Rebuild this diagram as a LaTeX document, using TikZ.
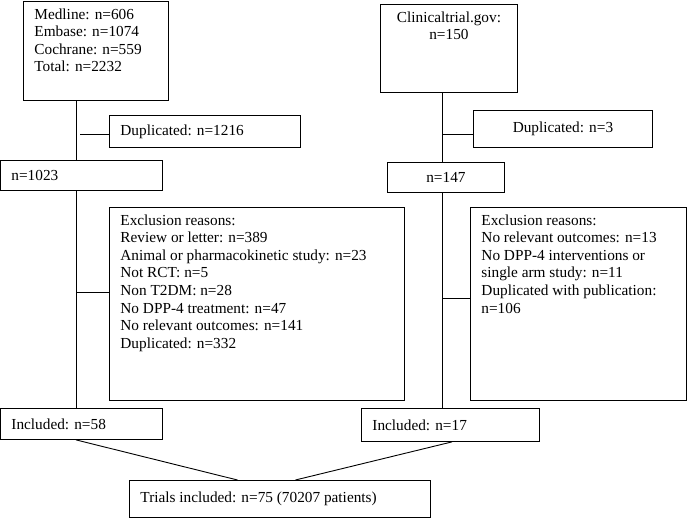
\documentclass[tikz,border=0pt]{standalone}
\usepackage{fontspec}
\setmainfont{Liberation Serif}
\usetikzlibrary{positioning}
\newcommand{\celltop}[3]{\parbox[t][\dimexpr#2pt-14pt\relax][t]{\dimexpr#1pt-22pt\relax}{\raggedright #3}}
\newcommand{\cellmid}[3]{\parbox[t][\dimexpr#2pt-14pt\relax][c]{\dimexpr#1pt-22pt\relax}{\raggedright #3}}
\begin{document}
\begin{tikzpicture}[x=1pt, y=-1pt, line width=0.9pt,
	font=\fontsize{15.3}{17.6}\selectfont,
	flowbox/.style={rectangle, draw, anchor=north west, inner xsep=11pt, inner ysep=7pt}]
	\useasboundingbox (0,0) rectangle (688,518);
	\coordinate (colL) at (76,0);
	\coordinate (colR) at (442,0);
	% left column
	\node[flowbox] (medline) at (23,1)   {\celltop{145}{99}{Medline: n=606\\ Embase: n=1074\\ Cochrane: n=559\\ Total: n=2232}};
	\node[flowbox] (dupL)    at (109,115) {\cellmid{191}{32}{Duplicated: n=1216}};
	\node[flowbox] (nL)      at (0,160)   {\cellmid{162}{30}{n=1023}};
	\node[flowbox] (exclL)   at (109,207) {\celltop{295}{193}{Exclusion reasons:\\ Review or letter: n=389\\ Animal or pharmacokinetic study: n=23\\ Not RCT: n=5\\ Non T2DM: n=28\\ No DPP-4 treatment: n=47\\ No relevant outcomes: n=141\\ Duplicated: n=332}};
	\node[flowbox] (inclL)   at (0,408)   {\cellmid{162}{31}{Included: n=58}};
	% right column
	\node[flowbox] (clin)    at (380,4)   {\celltop{137}{88}{\centering Clinicaltrial.gov:\\ n=150}};
	\node[flowbox] (dupR)    at (473,110) {\cellmid{179}{37}{\centering Duplicated: n=3}};
	\node[flowbox] (nR)      at (387,162) {\cellmid{117}{30}{\centering n=147}};
	\node[flowbox] (exclR)   at (470,207) {\celltop{216}{193}{Exclusion reasons:\\ No relevant outcomes: n=13\\ No DPP-4 interventions or\\ single arm study: n=11\\ Duplicated with publication:\\ n=106}};
	\node[flowbox] (inclR)   at (361,408) {\cellmid{178}{33}{Included: n=17}};
	% bottom
	\node[flowbox] (trials)  at (129,480) {\cellmid{301}{37}{Trials included: n=75 (70207 patients)}};

	\path (medline.south -| colL) edge (nL.north -| colL)
	(nL.south -| colL) edge (inclL.north -| colL)
	([yshift=-3pt]dupL.west) edge ([xshift=4pt,yshift=-3pt]dupL.west -| colL)
	([yshift=11.5pt]exclL.west) edge ([yshift=11.5pt]exclL.west -| colL)
	(clin.south -| colR) edge (nR.north -| colR)
	(nR.south -| colR) edge (inclR.north -| colR)
	([yshift=-5.5pt]dupR.west) edge ([yshift=-5.5pt]dupR.west -| colR)
	([yshift=5.5pt]exclR.west) edge ([yshift=5.5pt]exclR.west -| colR)
	(inclL.south -| colL) edge ([xshift=-42.5pt]trials.north)
	([xshift=1.5pt]inclR.south) edge ([xshift=15.5pt]trials.north);
\end{tikzpicture}
\end{document}
